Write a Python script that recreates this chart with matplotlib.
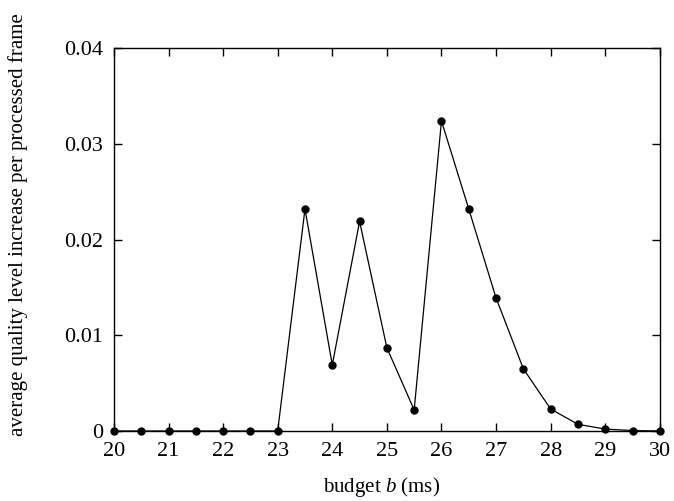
import matplotlib
matplotlib.use("Agg")
import matplotlib.pyplot as plt
from matplotlib.ticker import FixedLocator, FuncFormatter

plt.rcParams['font.family'] = ['Liberation Serif', 'DejaVu Serif']
plt.rcParams['mathtext.fontset'] = 'custom'
plt.rcParams['mathtext.it'] = 'Liberation Serif:italic'
plt.rcParams['mathtext.rm'] = 'Liberation Serif'

budget = [20, 20.5, 21, 21.5, 22, 22.5, 23, 23.5, 24, 24.5, 25, 25.5,
          26, 26.5, 27, 27.5, 28, 28.5, 29, 29.5, 30]
quality_increase = [0, 0, 0, 0, 0, 0, 0, 0.0232, 0.0069, 0.0219, 0.0087, 0.0022,
                    0.0324, 0.0232, 0.0139, 0.0065, 0.0023, 0.0007, 0.0002, 0.00005, 0]
x_ticks = list(range(20, 31))
y_ticks = [0, 0.01, 0.02, 0.03, 0.04]

fig = plt.figure(figsize=(6.74, 5.01), dpi=100)
ax = fig.add_axes([0.169, 0.1397, 0.810, 0.764])

ax.plot(budget, quality_increase, color='black', linewidth=0.9,
        marker='o', markersize=5, markerfacecolor='black', markeredgecolor='black',
        clip_on=False, zorder=3)

ax.set_xlim(20, 30)
ax.set_ylim(0, 0.04)
ax.xaxis.set_major_locator(FixedLocator(x_ticks))
ax.yaxis.set_major_locator(FixedLocator(y_ticks))
ax.yaxis.set_major_formatter(FuncFormatter(lambda v, p: '0' if v == 0 else f'{v:.2f}'))

ax.tick_params(direction='in', length=6, width=1, top=True, right=True,
               labelsize=16, pad=8)
for s in ax.spines.values():
    s.set_linewidth(1.0)

ax.set_xlabel(r'budget $b$ (ms)', fontsize=15)
ax.set_ylabel('average quality level increase per processed frame', fontsize=15)
ax.xaxis.set_label_coords(0.490, -0.116)
ax.yaxis.set_label_coords(-0.158, 0.54)

fig.savefig('out.png', dpi=100)
